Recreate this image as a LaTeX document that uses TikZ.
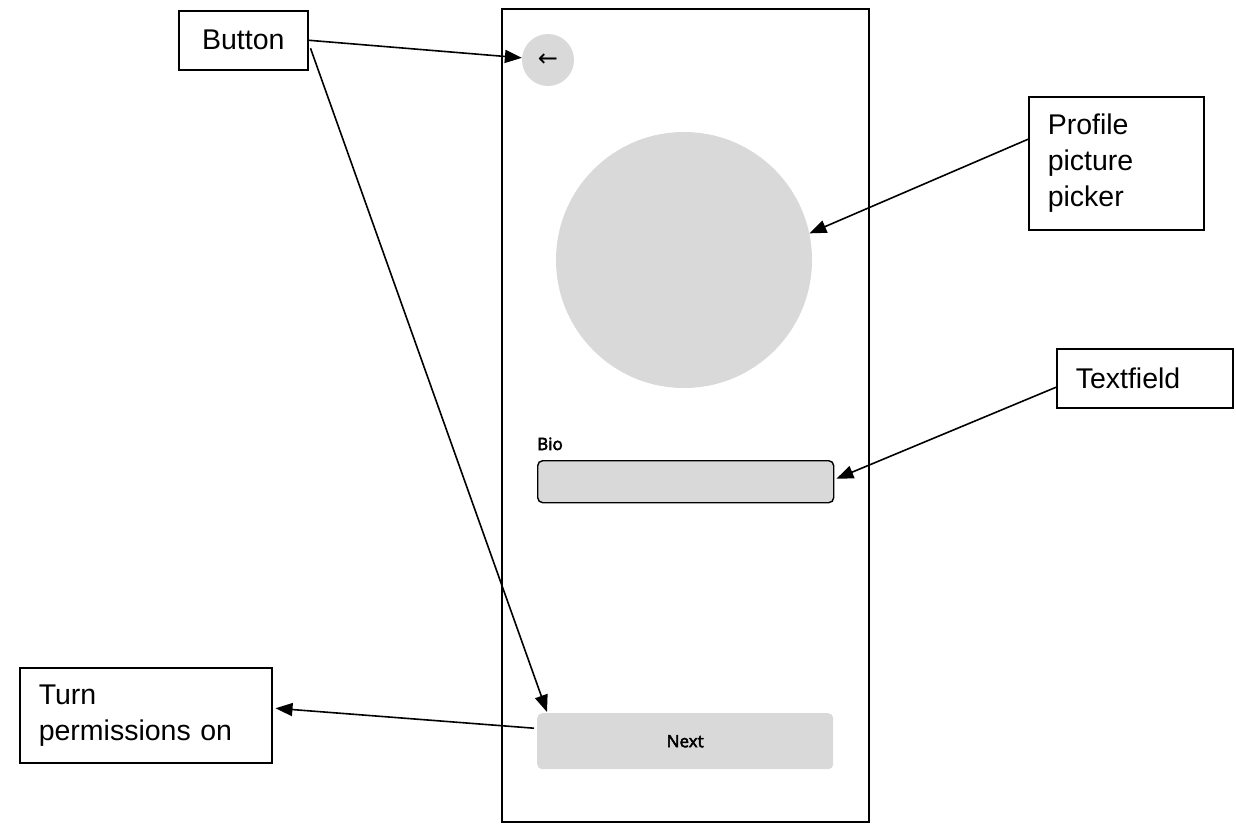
\documentclass[tikz,border=0pt]{standalone}
\usepackage{fontspec}
\setmainfont{Liberation Sans}
\newfontfamily\uifont{Open Sans}[FakeBold=3]
\newfontfamily\symfont{DejaVu Sans}
\usepackage{tikz}
\usetikzlibrary{arrows.meta,shapes.geometric}
\definecolor{mockgray}{HTML}{D9D9D9}

\tikzset{
  lbl/.style={draw, line width=1.5pt, anchor=north west, align=left,
    inner xsep=19pt, font=\fontsize{28.5}{36}\selectfont},
  link/.style={-{Triangle[length=17pt,width=13pt]}, line width=1.6pt},
  widget/.style={fill=mockgray, anchor=north west, minimum width=296pt, rounded corners=5pt},
  uitext/.style={font=\uifont\fontsize{17}{20}\selectfont}
}

\begin{document}
\begin{tikzpicture}[x=1pt,y=-1pt]
\useasboundingbox (0,0) rectangle (1236,825);

\node[draw, line width=2.2pt, anchor=north west, minimum width=367pt, minimum height=813pt] (phone) at (501,8) {};
\node[circle, fill=mockgray, minimum size=52pt, inner sep=0pt, font=\symfont\fontsize{24}{24}\selectfont] (back) at (548,60) {←};
\node[circle, fill=mockgray, minimum size=256pt, inner sep=0pt] (pic) at (684,260) {};
\node[uitext, anchor=base west, inner sep=0pt] (bio) at (537,450) {Bio};
\node[widget, draw, line width=1.4pt, minimum height=42pt] (field) at (537,460) {};
\node[widget, uitext, minimum height=56pt] (next) at (537,713) {Next};

\node[lbl, align=center, minimum width=129pt, minimum height=59pt] (btn) at (178,10) {Button};
\node[lbl, text width=137pt, minimum height=133pt] (pickLbl) at (1028,96) {Profile\\picture\\picker};
\node[lbl, text width=138pt, minimum height=59pt] (fieldLbl) at (1056,348) {Textfield};
\node[lbl, text width=214pt, minimum height=95pt] (permLbl) at (19,667) {Turn\\permissions on};

\draw[link] (btn.east) -- (back);
\draw[link] ([xshift=2pt,yshift=-8pt]btn.east) -- ([xshift=10pt,yshift=1pt]next.north west);
\draw[link] ([yshift=24pt]pickLbl.west) -- (pic.12);
\draw[link] ([yshift=-9pt]fieldLbl.west) -- ([xshift=2pt,yshift=3pt]field.east);
\draw[link] ([xshift=-3pt,yshift=13pt]next.west) -- ([xshift=3pt,yshift=7pt]permLbl.east);
\end{tikzpicture}
\end{document}
